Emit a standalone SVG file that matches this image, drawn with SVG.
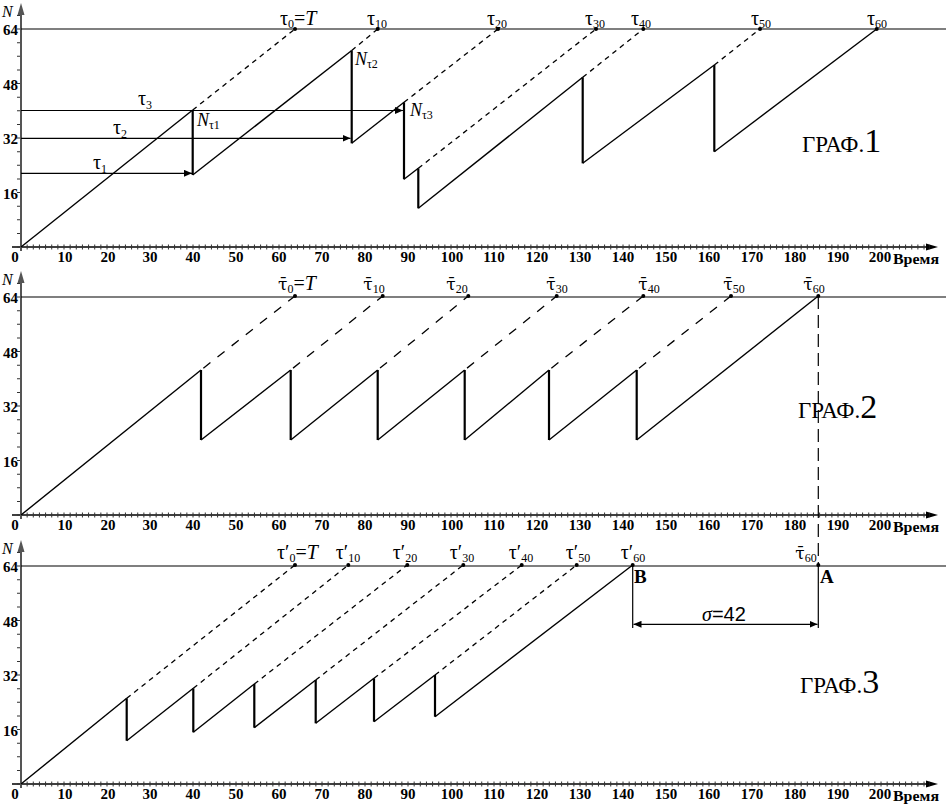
<svg xmlns="http://www.w3.org/2000/svg" xmlns:xlink="http://www.w3.org/1999/xlink" width="946" height="808" viewBox="0 0 946 808">
<style>
.ax{stroke:#000;stroke-width:1.3;fill:none}
.yax{stroke:#555;stroke-width:2;fill:none}
.xt{stroke:#333;stroke-width:5;stroke-dasharray:1 5.143;fill:none}
.yt{stroke:#333;stroke-width:4;stroke-dasharray:1 12.625;fill:none}
.lim{stroke:#000;stroke-width:1.2;fill:none}
.sl{stroke:#000;stroke-width:1.4;fill:none}
.vt{stroke:#000;stroke-width:2.2;fill:none}
.ds{stroke:#000;stroke-width:1.3;stroke-dasharray:5 4.5;fill:none}
.dl{stroke:#000;stroke-width:1.3;stroke-dasharray:9 9;fill:none}
.dv{stroke:#000;stroke-width:1.2;stroke-dasharray:13 6;fill:none}
.hl{stroke:#000;stroke-width:1.2;fill:none}
.num{font-family:"Liberation Serif","Times New Roman",serif;font-weight:bold;font-size:15px;fill:#000}
.tl{font-family:"Liberation Serif","Times New Roman",serif;font-size:20px;fill:#000}
.tb{font-family:"DejaVu Serif","Liberation Serif",serif;font-size:17px}
.it{font-style:italic}
.sub{font-size:12px}
.gr{font-family:"Liberation Serif","Times New Roman",serif;font-size:23px;fill:#000}
.grn{font-size:34px}
</style>
<defs>
<marker id="ah" markerUnits="userSpaceOnUse" markerWidth="9" markerHeight="7" refX="8" refY="3.5" orient="auto">
<path d="M0,0 L8,3.5 L0,7 Z" fill="#000"/>
</marker>
<marker id="as" markerUnits="userSpaceOnUse" markerWidth="9" markerHeight="7" refX="0" refY="3.5" orient="auto">
<path d="M8,0 L0,3.5 L8,7 Z" fill="#000"/>
</marker>
<g id="axes">
<line class="ax" x1="12" y1="247" x2="930" y2="247"/>
<polygon points="938,247 926,243.5 926,250.5" fill="#000"/>
<line class="xt" x1="20.5" y1="247" x2="930" y2="247"/>
<line class="yt" x1="19" y1="247.5" x2="19" y2="14"/>
<line class="yax" x1="21" y1="251" x2="21" y2="12"/>
<polygon points="21,3 17.5,15 24.5,15" fill="#555"/>
<line class="lim" x1="21" y1="29" x2="946" y2="29"/>
<text class="tl it" x="2" y="17" style="font-size:16px">N</text>
<g class="num" text-anchor="end">
<text x="18" y="35">64</text>
<text x="18" y="89.5">48</text>
<text x="18" y="144">32</text>
<text x="18" y="198.5">16</text>
</g>
<g class="num" text-anchor="middle">
<text x="15" y="262">0</text>
<text x="65" y="262">10</text>
<text x="108" y="262">20</text>
<text x="150" y="262">30</text>
<text x="193" y="262">40</text>
<text x="236" y="262">50</text>
<text x="279" y="262">60</text>
<text x="322" y="262">70</text>
<text x="365" y="262">80</text>
<text x="408" y="262">90</text>
<text x="452" y="262">100</text>
<text x="494" y="262">110</text>
<text x="537" y="262">120</text>
<text x="580" y="262">130</text>
<text x="623" y="262">140</text>
<text x="666" y="262">150</text>
<text x="709" y="262">160</text>
<text x="752" y="262">170</text>
<text x="795" y="262">180</text>
<text x="838" y="262">190</text>
<text x="880" y="262">200</text>
</g>
<text class="num" x="893" y="264" textLength="46" lengthAdjust="spacingAndGlyphs">Время</text>
</g>
</defs>

<g id="axes1"><use xlink:href="#axes" href="#axes"/></g>
<g id="axes2"><use xlink:href="#axes" href="#axes" y="268"/></g>
<g id="axes3"><use xlink:href="#axes" href="#axes" y="537"/></g>

<!-- ГРАФ 1 -->
<g id="graph1">
<polyline class="sl" points="21,247 192.7,110"/>
<polyline class="sl" points="192.7,175 351.7,50.5"/>
<polyline class="sl" points="351.7,143.3 404,102.3"/>
<polyline class="sl" points="404,179.3 418.3,168.3"/>
<polyline class="sl" points="418.3,208.3 582.7,77.3"/>
<polyline class="sl" points="582.7,163.3 714.3,65"/>
<polyline class="sl" points="714.3,151.7 876.7,29"/>
<line class="vt" x1="192.7" y1="110" x2="192.7" y2="175"/>
<line class="vt" x1="351.7" y1="50.5" x2="351.7" y2="143.3"/>
<line class="vt" x1="404" y1="102.3" x2="404" y2="179.3"/>
<line class="vt" x1="418.3" y1="168.3" x2="418.3" y2="208.3"/>
<line class="vt" x1="582.7" y1="77.3" x2="582.7" y2="163.3"/>
<line class="vt" x1="714.3" y1="65" x2="714.3" y2="151.7"/>
<line class="ds" x1="192.7" y1="110" x2="295" y2="29"/>
<line class="ds" x1="351.7" y1="50.5" x2="377.7" y2="29"/>
<line class="ds" x1="404" y1="102.3" x2="498" y2="29"/>
<line class="ds" x1="418.3" y1="168.3" x2="596" y2="29"/>
<line class="ds" x1="582.7" y1="77.3" x2="643.3" y2="29"/>
<line class="ds" x1="714.3" y1="65" x2="760" y2="29"/>
<g fill="#000">
<circle cx="295" cy="29" r="2"/><circle cx="377.7" cy="29" r="2"/><circle cx="498" cy="29" r="2"/>
<circle cx="596" cy="29" r="2"/><circle cx="643.3" cy="29" r="2"/><circle cx="760" cy="29" r="2"/>
<circle cx="876.7" cy="29" r="2"/>
</g>
<text class="tl" x="280" y="25">τ<tspan class="sub" dy="3">0</tspan><tspan dy="-3">=</tspan><tspan class="it">T</tspan></text>
<g class="tl" text-anchor="middle">
<text x="377" y="25">τ<tspan class="sub" dy="3">10</tspan></text>
<text x="497" y="25">τ<tspan class="sub" dy="3">20</tspan></text>
<text x="595" y="25">τ<tspan class="sub" dy="3">30</tspan></text>
<text x="641" y="25">τ<tspan class="sub" dy="3">40</tspan></text>
<text x="761" y="25">τ<tspan class="sub" dy="3">50</tspan></text>
<text x="877" y="25">τ<tspan class="sub" dy="3">60</tspan></text>
</g>
<text class="tl" x="93" y="169">τ<tspan class="sub" dy="4">1</tspan></text>
<text class="tl" x="113" y="134">τ<tspan class="sub" dy="4">2</tspan></text>
<text class="tl" x="138" y="105">τ<tspan class="sub" dy="4">3</tspan></text>
<text class="tl" x="197" y="126" style="font-size:18px"><tspan class="it">N</tspan><tspan class="sub" dy="3">τ1</tspan></text>
<text class="tl" x="355" y="65" style="font-size:18px"><tspan class="it">N</tspan><tspan class="sub" dy="3">τ2</tspan></text>
<text class="tl" x="410" y="116" style="font-size:18px"><tspan class="it">N</tspan><tspan class="sub" dy="3">τ3</tspan></text>
<text class="gr" x="802" y="152">ГРАФ.<tspan class="grn">1</tspan></text>
</g>

<g id="connectors">
<line class="hl" x1="21" y1="173.3" x2="192" y2="173.3" marker-end="url(#ah)"/>
<line class="hl" x1="21" y1="138.3" x2="350.5" y2="138.3" marker-end="url(#ah)"/>
<line class="hl" x1="21" y1="110.5" x2="403" y2="110.5" marker-end="url(#ah)"/>
<line class="dv" x1="818.3" y1="296" x2="818.3" y2="565"/>
<line class="hl" x1="632.7" y1="565" x2="632.7" y2="628"/>
<line class="hl" x1="818.3" y1="565" x2="818.3" y2="628"/>
<line class="hl" x1="633.5" y1="624.3" x2="817.5" y2="624.3" marker-start="url(#as)" marker-end="url(#ah)"/>
</g>

<!-- ГРАФ 2 -->
<g id="graph2">
<polyline class="sl" points="21,515 201,370"/>
<polyline class="sl" points="201,440 290.7,370"/>
<polyline class="sl" points="290.7,440 377.7,370"/>
<polyline class="sl" points="377.7,440 464.7,370"/>
<polyline class="sl" points="464.7,440 549,370"/>
<polyline class="sl" points="549,440 636.7,370"/>
<polyline class="sl" points="636.7,440 818.3,296"/>
<line class="vt" x1="201" y1="370" x2="201" y2="440"/>
<line class="vt" x1="290.7" y1="370" x2="290.7" y2="440"/>
<line class="vt" x1="377.7" y1="370" x2="377.7" y2="440"/>
<line class="vt" x1="464.7" y1="370" x2="464.7" y2="440"/>
<line class="vt" x1="549" y1="370" x2="549" y2="440"/>
<line class="vt" x1="636.7" y1="370" x2="636.7" y2="440"/>
<line class="dl" x1="201" y1="370" x2="295" y2="296" stroke-dashoffset="-3"/>
<line class="dl" x1="290.7" y1="370" x2="382.7" y2="296" stroke-dashoffset="-3"/>
<line class="dl" x1="377.7" y1="370" x2="468.3" y2="296" stroke-dashoffset="-3"/>
<line class="dl" x1="464.7" y1="370" x2="556.7" y2="296" stroke-dashoffset="-3"/>
<line class="dl" x1="549" y1="370" x2="643.3" y2="296" stroke-dashoffset="-3"/>
<line class="dl" x1="636.7" y1="370" x2="731" y2="296" stroke-dashoffset="-3"/>
<g fill="#000">
<circle cx="295" cy="296" r="2"/><circle cx="382.7" cy="296" r="2"/><circle cx="468.3" cy="296" r="2"/>
<circle cx="556.7" cy="296" r="2"/><circle cx="643.3" cy="296" r="2"/><circle cx="731" cy="296" r="2"/>
<circle cx="818.3" cy="296" r="2"/>
</g>
<text class="tl" x="278" y="290"><tspan class="tb">τ̄</tspan><tspan class="sub" dy="3">0</tspan><tspan dy="-3">=</tspan><tspan class="it">T</tspan></text>
<g class="tl" text-anchor="middle">
<text x="374" y="290"><tspan class="tb">τ̄</tspan><tspan class="sub" dy="3">10</tspan></text>
<text x="457" y="290"><tspan class="tb">τ̄</tspan><tspan class="sub" dy="3">20</tspan></text>
<text x="557" y="290"><tspan class="tb">τ̄</tspan><tspan class="sub" dy="3">30</tspan></text>
<text x="649" y="290"><tspan class="tb">τ̄</tspan><tspan class="sub" dy="3">40</tspan></text>
<text x="734" y="290"><tspan class="tb">τ̄</tspan><tspan class="sub" dy="3">50</tspan></text>
<text x="814" y="290"><tspan class="tb">τ̄</tspan><tspan class="sub" dy="3">60</tspan></text>
</g>
<text class="gr" x="798" y="418">ГРАФ.<tspan class="grn">2</tspan></text>
</g>

<!-- ГРАФ 3 -->
<g id="graph3">
<polyline class="sl" points="21,784 126.7,698.3"/>
<polyline class="sl" points="126.7,740.7 193.3,688.3"/>
<polyline class="sl" points="193.3,732.3 254.3,684"/>
<polyline class="sl" points="254.3,727.7 315.7,680"/>
<polyline class="sl" points="315.7,723.3 374,678.3"/>
<polyline class="sl" points="374,721.7 435,675"/>
<polyline class="sl" points="435,716.7 632.7,565"/>
<line class="vt" x1="126.7" y1="698.3" x2="126.7" y2="740.7"/>
<line class="vt" x1="193.3" y1="688.3" x2="193.3" y2="732.3"/>
<line class="vt" x1="254.3" y1="684" x2="254.3" y2="727.7"/>
<line class="vt" x1="315.7" y1="680" x2="315.7" y2="723.3"/>
<line class="vt" x1="374" y1="678.3" x2="374" y2="721.7"/>
<line class="vt" x1="435" y1="675" x2="435" y2="716.7"/>
<line class="ds" x1="126.7" y1="698.3" x2="295" y2="565"/>
<line class="ds" x1="193.3" y1="688.3" x2="348.3" y2="565"/>
<line class="ds" x1="254.3" y1="684" x2="407.3" y2="565"/>
<line class="ds" x1="315.7" y1="680" x2="463.3" y2="565"/>
<line class="ds" x1="374" y1="678.3" x2="521.7" y2="565"/>
<line class="ds" x1="435" y1="675" x2="576.7" y2="565"/>
<g fill="#000">
<circle cx="295" cy="565" r="2"/><circle cx="348.3" cy="565" r="2"/><circle cx="407.3" cy="565" r="2"/>
<circle cx="463.3" cy="565" r="2"/><circle cx="521.7" cy="565" r="2"/><circle cx="576.7" cy="565" r="2"/>
<circle cx="632.7" cy="565" r="2"/><circle cx="818.3" cy="565" r="2"/>
</g>
<text class="tl" x="277" y="559">τ′<tspan class="sub" dy="3">0</tspan><tspan dy="-3">=</tspan><tspan class="it">T</tspan></text>
<g class="tl" text-anchor="middle">
<text x="348" y="559">τ′<tspan class="sub" dy="3">10</tspan></text>
<text x="405" y="559">τ′<tspan class="sub" dy="3">20</tspan></text>
<text x="462" y="559">τ′<tspan class="sub" dy="3">30</tspan></text>
<text x="521" y="559">τ′<tspan class="sub" dy="3">40</tspan></text>
<text x="578" y="559">τ′<tspan class="sub" dy="3">50</tspan></text>
<text x="633" y="559">τ′<tspan class="sub" dy="3">60</tspan></text>
<text x="806" y="559"><tspan class="tb">τ̄</tspan><tspan class="sub" dy="3">60</tspan></text>
</g>
<text class="tl" x="634" y="583" style="font-weight:bold;font-size:19px">B</text>
<text class="tl" x="820" y="583" style="font-weight:bold;font-size:19px">A</text>
<text x="702" y="621" style="font-size:20px;fill:#000"><tspan class="it" style="font-family:'Liberation Serif',serif">σ</tspan><tspan style="font-family:'Liberation Sans',Arial,sans-serif">=42</tspan></text>
<text class="gr" x="800" y="693">ГРАФ.<tspan class="grn">3</tspan></text>
</g>
</svg>
